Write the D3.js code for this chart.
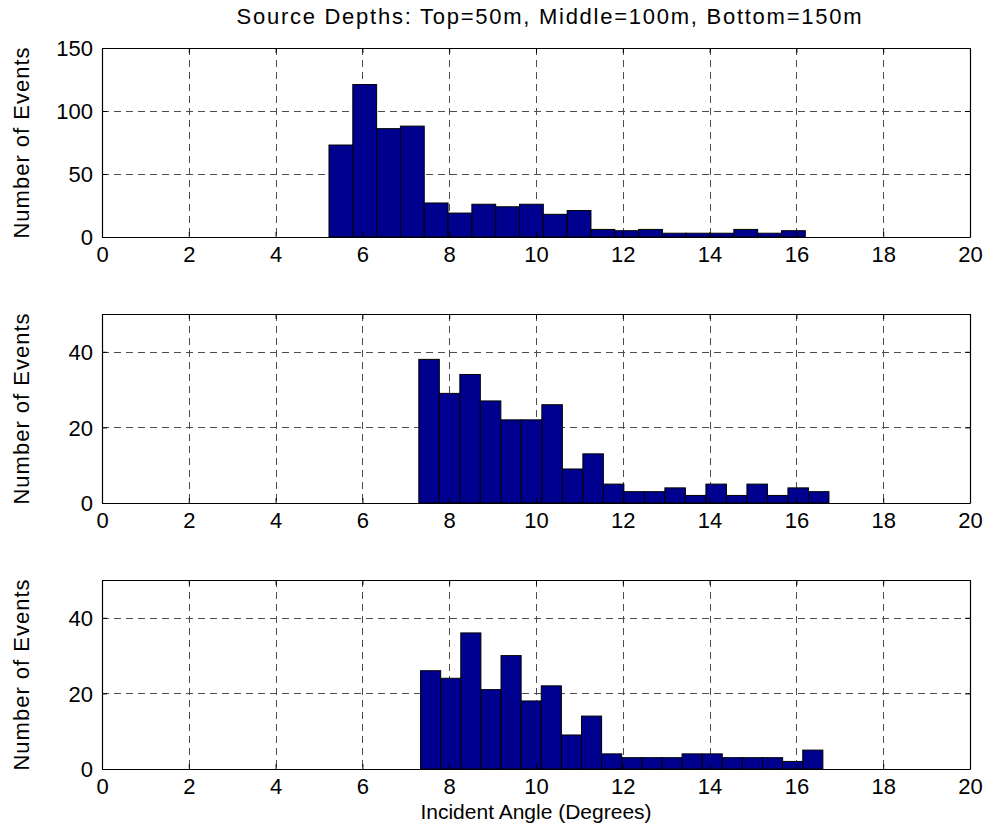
<!DOCTYPE html>
<html>
<head>
<meta charset="utf-8">
<script src="https://cdn.jsdelivr.net/npm/d3@7"></script>
<style>
  html, body { margin: 0; padding: 0; background: #fff; }
  svg text { font-family: "Liberation Sans", Arial, Helvetica, sans-serif; fill: #000; }
</style>
</head>
<body>
<svg id="chart" width="987" height="838"></svg>
<script>
// ---- data ----
const titleText = "Source Depths: Top=50m, Middle=100m, Bottom=150m";
const xLabelText = "Incident Angle (Degrees)";
const yLabelText = "Number of Events";
const xTicks = [0, 2, 4, 6, 8, 10, 12, 14, 16, 18, 20];

// Top source (50 m): 20 histogram bins spanning topRange
const topRange = [5.23, 16.205];
const topCounts = [73, 121, 86, 88, 27, 19, 26, 24, 26, 18, 21, 6, 5, 6, 3, 3, 3, 6, 3, 5];
const topYTicks = [0, 50, 100, 150];
const topYMax = 150;

// Middle source (100 m)
const middleRange = [7.30, 16.75];
const middleCounts = [38, 29, 34, 27, 22, 22, 26, 9, 13, 5, 3, 3, 4, 2, 5, 2, 5, 2, 4, 3];
const middleYTicks = [0, 20, 40];
const middleYMax = 50;

// Bottom source (150 m)
const bottomRange = [7.34, 16.61];
const bottomCounts = [26, 24, 36, 21, 30, 18, 22, 9, 14, 4, 3, 3, 3, 4, 4, 3, 3, 3, 2, 5];
const bottomYTicks = [0, 20, 40];
const bottomYMax = 50;

// ---- layout ----
const svg = d3.select("#chart");
const left = 102, right = 970, panelH = 189;
const tops = [48, 314, 580];
const tickFont = 22;
const barFill = "#00008f";

const panels = [
  { range: topRange, counts: topCounts, yTicks: topYTicks, yMax: topYMax },
  { range: middleRange, counts: middleCounts, yTicks: middleYTicks, yMax: middleYMax },
  { range: bottomRange, counts: bottomCounts, yTicks: bottomYTicks, yMax: bottomYMax }
];

const x = d3.scaleLinear().domain([0, 20]).range([left, right]);

panels.forEach((p, i) => {
  const top = tops[i], bottom = top + panelH;
  const y = d3.scaleLinear().domain([0, p.yMax]).range([bottom, top]);
  const g = svg.append("g");

  // grid
  const grid = g.append("g").attr("stroke", "#4d4d4d").attr("stroke-width", 1)
    .attr("stroke-dasharray", "7,5").attr("fill", "none");
  xTicks.slice(1, -1).forEach(t => {
    grid.append("line").attr("x1", Math.round(x(t)) + 0.5).attr("x2", Math.round(x(t)) + 0.5)
      .attr("y1", top).attr("y2", bottom);
  });
  p.yTicks.filter(t => t > 0 && t < p.yMax).forEach(t => {
    grid.append("line").attr("y1", Math.round(y(t)) + 0.5).attr("y2", Math.round(y(t)) + 0.5)
      .attr("x1", left).attr("x2", right);
  });

  // bars
  const n = p.counts.length;
  const w = (p.range[1] - p.range[0]) / n;
  const bins = p.counts.map((c, k) => ({ x0: p.range[0] + k * w, x1: p.range[0] + (k + 1) * w, c }));
  g.append("g").selectAll("rect").data(bins.filter(b => b.c > 0)).join("rect")
    .attr("x", b => x(b.x0)).attr("width", b => x(b.x1) - x(b.x0))
    .attr("y", b => y(b.c)).attr("height", b => y(0) - y(b.c))
    .attr("fill", barFill).attr("stroke", "#000").attr("stroke-width", 1);

  // axes (MATLAB-style inward ticks, boxed)
  const tickLen = 5;
  const axB = g.append("g").attr("transform", `translate(0,${bottom})`)
    .call(d3.axisBottom(x).tickValues(xTicks).tickSizeInner(-tickLen).tickSizeOuter(0).tickPadding(9));
  const axT = g.append("g").attr("transform", `translate(0,${top})`)
    .call(d3.axisTop(x).tickValues(xTicks).tickSizeInner(-tickLen).tickSizeOuter(0).tickFormat(""));
  const axL = g.append("g").attr("transform", `translate(${left},0)`)
    .call(d3.axisLeft(y).tickValues(p.yTicks).tickSizeInner(-tickLen).tickSizeOuter(0).tickPadding(9));
  const axR = g.append("g").attr("transform", `translate(${right},0)`)
    .call(d3.axisRight(y).tickValues(p.yTicks).tickSizeInner(-tickLen).tickSizeOuter(0).tickFormat(""));
  [axB, axT, axL, axR].forEach(a => {
    a.select(".domain").attr("stroke", "#000").attr("stroke-width", 1.2);
    a.selectAll(".tick line").attr("stroke", "#000");
    a.selectAll("text").attr("font-size", tickFont).attr("font-family", null);
  });
  axL.selectAll("text").attr("dy", "0.36em");

  // y label
  g.append("text").attr("transform", `translate(29,${(top + bottom) / 2}) rotate(-90)`)
    .attr("text-anchor", "middle").attr("font-size", 22).style("letter-spacing", "1px")
    .text(yLabelText);
});

// title
svg.append("text").attr("x", 549).attr("y", 24)
  .attr("text-anchor", "middle").attr("font-size", 22)
  .attr("textLength", 625).attr("lengthAdjust", "spacing")
  .text(titleText);

// x label
svg.append("text").attr("x", (left + right) / 2).attr("y", 819)
  .attr("text-anchor", "middle").attr("font-size", 21)
  .text(xLabelText);
</script>
</body>
</html>
